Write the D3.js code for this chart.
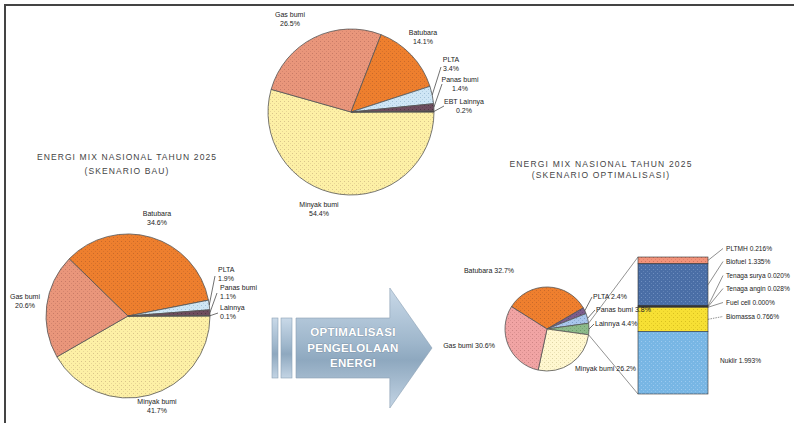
<!DOCTYPE html>
<html><head><meta charset="utf-8">
<script src="https://cdn.jsdelivr.net/npm/d3@7/dist/d3.min.js"></script>
<style>
body{margin:0;background:#fff;}
svg{display:block;font-family:"Liberation Sans",Arial,sans-serif;}
</style></head>
<body>
<script>
// ---------- DATA ----------
const topCategories = ["Minyak bumi","Gas bumi","Batubara","PLTA","Panas bumi","EBT Lainnya"];
const topValues     = [54.4, 26.5, 14.1, 3.4, 1.4, 0.2];

const bauCategories = ["Minyak bumi","Gas bumi","Batubara","PLTA","Panas bumi","Lainnya"];
const bauValues     = [41.7, 20.6, 34.6, 1.9, 1.1, 0.1];

const optCategories = ["Batubara","PLTA","Panas bumi","Lainnya","Minyak bumi","Gas bumi"];
const optValues     = [32.7, 2.4, 3.8, 4.4, 26.2, 30.6];

const otherCategories = ["PLTMH","Biofuel","Tenaga surya","Tenaga angin","Fuel cell","Biomassa","Nuklir"];
const otherValues     = [0.216, 1.335, 0.020, 0.028, 0.000, 0.766, 1.993];

const titleBAU = ["ENERGI MIX NASIONAL TAHUN 2025","(SKENARIO BAU)"];
const titleOPT = ["ENERGI MIX NASIONAL TAHUN 2025","(SKENARIO OPTIMALISASI)"];
const arrowText = ["OPTIMALISASI","PENGELOLAAN","ENERGI"];

// ---------- STYLE / LAYOUT ----------
const W = 794, H = 423;
const topColors = {"Minyak bumi":["#fdf0a6","#d9c48a"],"Gas bumi":["#e9967b","#c77a66"],"Batubara":["#ee7f2e","#c8692a"],
  "PLTA":["#cfe6f5","#9fbfd6"],"Panas bumi":["#6e4d5e","#4d3542"],"EBT Lainnya":["#3a3036","#222"],"Lainnya":["#3a3036","#222"]};
const optColors = {"Batubara":["#ef7f2e","#c8692a"],"PLTA":["#7c5e8c","#5e4670"],"Panas bumi":["#a9c6ec","#7f9fc8"],
  "Lainnya":["#8cba8a","#6a9a6a"],"Minyak bumi":["#fff7cf","#ddd3a4"],"Gas bumi":["#f1a4a4","#cf8585"]};
const barColors = {"PLTMH":["#f3937a","#d07560"],"Biofuel":["#4a6ea6","#6f8fc0"],"Tenaga surya":["#222","#222"],
  "Tenaga angin":["#222","#222"],"Fuel cell":["#222","#222"],"Biomassa":["#f7e034","#d8c020"],"Nuklir":["#78b6e4","#9ccaf0"]};

const svg = d3.select("body").append("svg").attr("width",W).attr("height",H);
const defs = svg.append("defs");
let pid = 0;
function pat(c){
  const id = "p"+(pid++);
  const p = defs.append("pattern").attr("id",id).attr("width",4).attr("height",4).attr("patternUnits","userSpaceOnUse");
  p.append("rect").attr("width",4).attr("height",4).attr("fill",c[0]);
  p.append("rect").attr("x",1).attr("y",1).attr("width",1).attr("height",1).attr("fill",c[1]);
  p.append("rect").attr("x",3).attr("y",3).attr("width",1).attr("height",1).attr("fill",c[1]).attr("opacity",0.6);
  return "url(#"+id+")";
}

// frame
svg.append("line").attr("x1",4).attr("x2",W).attr("y1",5).attr("y2",5).attr("stroke","#444").attr("stroke-width",2);
svg.append("line").attr("x1",5).attr("x2",5).attr("y1",4).attr("y2",H).attr("stroke","#444").attr("stroke-width",2);

const TXT = "#222", FS = 7;

function drawPie(cats, vals, cx, cy, r, start, colors){
  const pie = d3.pie().sort(null).startAngle(start).endAngle(start+2*Math.PI);
  const arcs = pie(vals);
  const arc = d3.arc().innerRadius(0).outerRadius(r);
  const g = svg.append("g").attr("transform",`translate(${cx},${cy})`);
  g.selectAll("path").data(arcs).join("path")
    .attr("d",arc).attr("fill",(d,i)=>pat(colors[cats[i]]))
    .attr("stroke","#555").attr("stroke-width",0.8);
  return {arcs, g, cx, cy, r};
}
function ptAt(p, a, rr){ return [p.cx + rr*Math.sin(a), p.cy - rr*Math.cos(a)]; }
function label(lines, x, y, anchor, size, dy){
  const t = svg.append("text").attr("x",x).attr("y",y).attr("text-anchor",anchor||"middle")
    .attr("font-size",size||FS).attr("fill",TXT);
  lines.forEach((l,i)=>t.append("tspan").attr("x",x).attr("dy",i?(dy||8.5):0).text(l));
  return t;
}
function leader(p, i, x2, y2){
  const d = p.arcs[i], a = (d.startAngle+d.endAngle)/2;
  const [x1,y1] = ptAt(p,a,p.r);
  svg.append("line").attr("x1",x1).attr("y1",y1).attr("x2",x2).attr("y2",y2)
    .attr("stroke","#333").attr("stroke-width",0.7);
}
const pct1 = v => v.toFixed(1)+"%";

// ---------- TOP PIE (current) ----------
const pTop = drawPie(topCategories, topValues, 351, 112, 83, Math.PI/2, topColors);
const topLab = [[319,207,"middle"],[290,17,"middle"],[423,35,"middle"],[451,62,"middle"],[460,82,"middle"],[464,104,"middle"]];
topCategories.forEach((c,i)=>label([c,pct1(topValues[i])], topLab[i][0], topLab[i][1], topLab[i][2]));
leader(pTop,3,441,67); leader(pTop,4,442,84); leader(pTop,5,444,106);

// ---------- LEFT PIE (BAU) ----------
label(titleBAU, 127, 160, "middle", 8.5, 14).attr("letter-spacing",1.1).attr("fill","#444");
const pBau = drawPie(bauCategories, bauValues, 128, 316, 82, Math.PI/2, topColors);
const bauLab = [[157,404,"middle"],[25,299,"middle"],[157,216,"middle"],[218,272,"start"],[220,290,"start"],[220,310,"start"]];
bauCategories.forEach((c,i)=>label([c,pct1(bauValues[i])], bauLab[i][0], bauLab[i][1], bauLab[i][2]));
leader(pBau,3,215,276); leader(pBau,4,217,293); leader(pBau,5,218,313);

// ---------- ARROW ----------
const grad = defs.append("linearGradient").attr("id","ag").attr("x1",0).attr("y1",0).attr("x2",0).attr("y2",1);
[["0%","#c9d9e8"],["45%","#9fb7cc"],["60%","#8ea8bf"],["100%","#c3d4e4"]].forEach(s=>grad.append("stop").attr("offset",s[0]).attr("stop-color",s[1]));
const ax = d3.scaleLinear().domain([0,1]).range([296,432]);
const ay = d3.scaleLinear().domain([0,1]).range([288,408]);
const arrowPts = [[0,0.25],[0.69,0.25],[0.69,0],[1,0.5],[0.69,1],[0.69,0.75],[0,0.75]];
svg.append("polygon").attr("points",arrowPts.map(p=>ax(p[0])+","+ay(p[1])).join(" "))
  .attr("fill","url(#ag)").attr("stroke","#8aa0b4").attr("stroke-width",0.6);
[[272,6],[281,11]].forEach(b=>svg.append("rect").attr("x",b[0]).attr("y",ay(0.25)).attr("width",b[1]).attr("height",ay(0.75)-ay(0.25))
  .attr("fill","url(#ag)").attr("stroke","#8aa0b4").attr("stroke-width",0.6));
arrowText.forEach((t,i)=>svg.append("text").attr("x",353).attr("y",336+i*15.5).attr("text-anchor","middle")
  .attr("font-size",11.5).attr("font-weight","bold").attr("letter-spacing",0.3).attr("fill","#fff").attr("stroke","#6d8296").attr("stroke-width",0.5)
  .attr("paint-order","stroke").attr("font-family","'Liberation Sans Narrow','Liberation Sans',Arial").text(t));

// ---------- RIGHT PIE (OPTIMALISASI) ----------
label(titleOPT, 601, 167, "middle", 8.5, 11).attr("letter-spacing",1.2).attr("fill","#444");
const iOther = optCategories.indexOf("Lainnya");
const optTotal = d3.sum(optValues);
const before = d3.sum(optValues.slice(0,iOther)) + optValues[iOther]/2;
const optStart = Math.PI/2 - before/optTotal*2*Math.PI;
const pOpt = drawPie(optCategories, optValues, 547, 329, 42, optStart, optColors);

// ---------- BAR OF PIE ----------
const bx0 = 638, bw = 70;
const otherTotal = d3.sum(otherValues);
const by = d3.scaleLinear().domain([0, otherTotal]).range([257, 394]);
const cum = d3.cumsum(otherValues);
const oArc = pOpt.arcs[iOther];
const cA = ptAt(pOpt, oArc.startAngle, pOpt.r), cB = ptAt(pOpt, oArc.endAngle, pOpt.r);
svg.append("line").attr("x1",cA[0]).attr("y1",cA[1]).attr("x2",bx0).attr("y2",by(0)).attr("stroke","#777").attr("stroke-width",0.8);
svg.append("line").attr("x1",cB[0]).attr("y1",cB[1]).attr("x2",bx0).attr("y2",by(otherTotal)).attr("stroke","#777").attr("stroke-width",0.8);
svg.append("g").selectAll("rect").data(otherValues).join("rect")
  .attr("x",bx0).attr("width",bw)
  .attr("y",(d,i)=>by(cum[i]-d)).attr("height",d=>by(d)-by(0))
  .attr("fill",(d,i)=>pat(barColors[otherCategories[i]]))
  .attr("stroke","#333").attr("stroke-width",0.6);

// right pie labels
const optLab = [[489,273,"middle"],[593,299,"start"],[596,312,"start"],[595,326,"start"],[575,371,"start"],[469,348,"middle"]];
optCategories.forEach((c,i)=>label([c+" "+pct1(optValues[i])], optLab[i][0], optLab[i][1], optLab[i][2]));
leader(pOpt,1,592,297); leader(pOpt,2,595,310); leader(pOpt,3,594,324);

// bar labels
const barLab = [[726,251],[726,264],[726,278],[726,291],[726,305],[726,319],[720,363]];
otherCategories.forEach((c,i)=>{
  label([c+" "+otherValues[i].toFixed(3)+"%"], barLab[i][0], barLab[i][1], "start", 6.6);
  if(i < otherCategories.length-1){
    const ym = by(cum[i]-otherValues[i]/2);
    svg.append("line").attr("x1",bx0+bw).attr("y1",ym).attr("x2",barLab[i][0]-3).attr("y2",barLab[i][1]-2.5)
      .attr("stroke","#444").attr("stroke-width",0.6).attr("stroke-dasharray", i===5?"1.5,1":null);
  }
});
</script>
</body></html>
